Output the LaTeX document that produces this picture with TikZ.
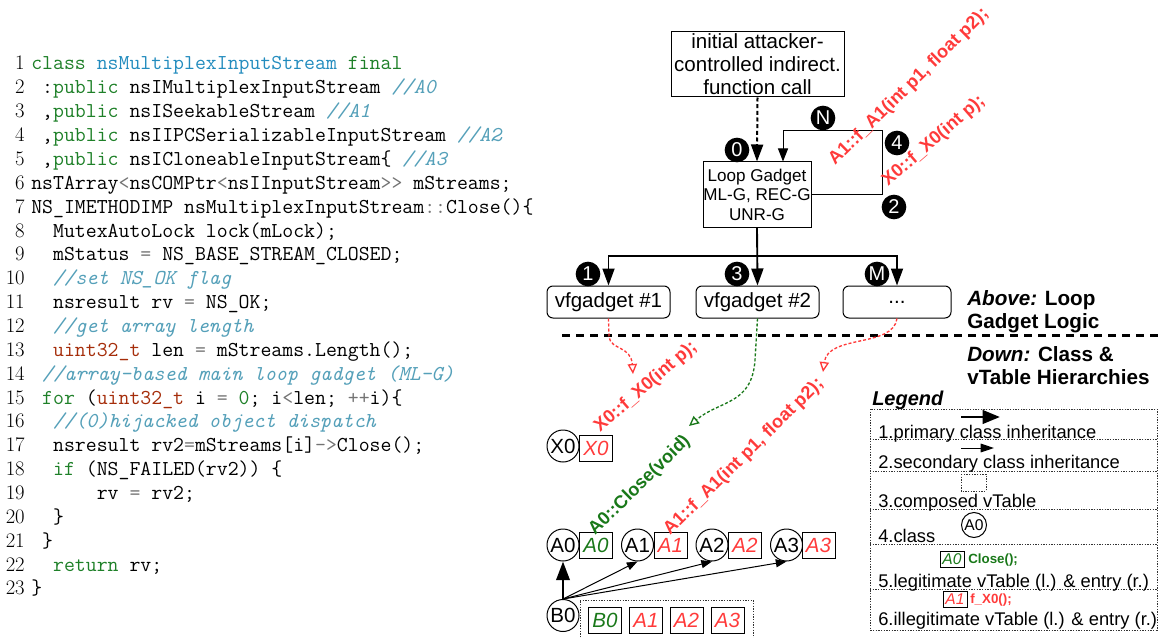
\documentclass[tikz,border=0pt]{standalone}
\usepackage{fontspec}
\newfontfamily\arialf{Liberation Sans}
\usetikzlibrary{arrows.meta}

\definecolor{kwgreen}{RGB}{30,128,40}
\definecolor{clsblue}{RGB}{35,140,190}
\definecolor{cmtblue}{RGB}{85,160,185}
\definecolor{typred}{RGB}{165,45,10}
\definecolor{opgray}{RGB}{115,115,115}
\definecolor{lred}{RGB}{255,58,58}
\definecolor{dgreen}{RGB}{25,120,25}

% code helpers
\newcommand\ind[1]{\hspace*{#1\fontcharwd\font`\x}}
\newcommand\kw[1]{\textcolor{kwgreen}{#1}}
\newcommand\ty[1]{\textcolor{typred}{#1}}
\newcommand\op[1]{\textcolor{opgray}{#1}}
\newcommand\cm[1]{\textcolor{cmtblue}{\itshape #1}}

\tikzset{
  code/.style={anchor=base west, inner sep=0pt, font=\fontsize{15.9}{18}\ttfamily},
  lnum/.style={anchor=base east, inner sep=0pt, font=\fontsize{15.5}{18}\rmfamily},
  box/.style={draw, line width=0.75pt, inner sep=0pt, align=center},
  vfbox/.style={draw, line width=0.75pt, inner sep=0pt, rounded corners=4.5pt,
    minimum width=92.25pt, minimum height=24pt, font=\fontsize{15.4}{15.4}\arialf},
  badge/.style={circle, fill=black, text=white, inner sep=0pt, minimum size=18.5pt,
    font=\fontsize{15}{15}\arialf},
  cls/.style={circle, draw, line width=0.75pt, inner sep=0pt, minimum size=24pt,
    font=\fontsize{15.4}{15.4}\arialf},
  vt/.style={draw, line width=0.75pt, inner sep=0pt, minimum width=24.75pt,
    minimum height=19.5pt, font=\fontsize{15.4}{15.4}\arialf\itshape},
  lbl/.style={rotate=44.5, anchor=base west, inner sep=0pt,
    font=\fontsize{13.6}{13.6}\arialf\bfseries},
  note/.style={anchor=base west, inner sep=0pt, font=\fontsize{15.5}{15.5}\arialf\bfseries},
  legt/.style={anchor=base west, inner sep=0pt, font=\fontsize{13.75}{13.75}\arialf},
  ldot/.style={line width=0.6pt, dash pattern=on 1pt off 1pt, black!80},
  smallvt/.style={draw, line width=0.6pt, inner sep=0pt, minimum width=18pt,
    minimum height=12pt, font=\fontsize{11.7}{11.7}\arialf\itshape},
  entry/.style={anchor=west, inner sep=0pt, font=\fontsize{10}{10}\arialf\bfseries},
  bigtip/.style={-{Triangle[length=12.75pt,width=9pt]}},
  midtip/.style={-{Triangle[length=9.75pt,width=7.5pt]}},
  opentip/.style={-{Triangle[open,length=7.5pt,width=7pt]}},
  flow/.style={line width=1pt, dash pattern=on 2.25pt off 1.5pt},
}

\begin{document}
\begin{tikzpicture}[x=0.75pt,y=-0.75pt]
\useasboundingbox (0,0) rectangle (1163,638);

% ---------------- source listing ----------------
\foreach \i in {1,...,23} {
  \node[lnum] (n\i) at (25,{70+(\i-1)*23.86}) {\i};
}
\node[code] (c1)  at (31,{70+0*23.86})  {\kw{class} \textcolor{clsblue}{nsMultiplexInputStream} \kw{final}};
\node[code] (c2)  at (31,{70+1*23.86})  {\ind1:\kw{public} nsIMultiplexInputStream \cm{//A0}};
\node[code] (c3)  at (31,{70+2*23.86})  {\ind1,\kw{public} nsISeekableStream \cm{//A1}};
\node[code] (c4)  at (31,{70+3*23.86})  {\ind1,\kw{public} nsIIPCSerializableInputStream \cm{//A2}};
\node[code] (c5)  at (31,{70+4*23.86})  {\ind1,\kw{public} nsICloneableInputStream\{ \cm{//A3}};
\node[code] (c6)  at (31,{70+5*23.86})  {nsTArray\op{<}nsCOMPtr\op{<}nsIInputStream\op{>>} mStreams;};
\node[code] (c7)  at (31,{70+6*23.86})  {NS\_IMETHODIMP nsMultiplexInputStream\op{::}Close()\{};
\node[code] (c8)  at (31,{70+7*23.86})  {\ind2MutexAutoLock lock(mLock);};
\node[code] (c9)  at (31,{70+8*23.86})  {\ind2mStatus \op{=} NS\_BASE\_STREAM\_CLOSED;};
\node[code] (c10) at (31,{70+9*23.86})  {\ind2\cm{//set NS\_OK flag}};
\node[code] (c11) at (31,{70+10*23.86}) {\ind2nsresult rv \op{=} NS\_OK;};
\node[code] (c12) at (31,{70+11*23.86}) {\ind2\cm{//get array length}};
\node[code] (c13) at (31,{70+12*23.86}) {\ind2\ty{uint32\_t} len \op{=} mStreams.Length();};
\node[code] (c14) at (31,{70+13*23.86}) {\ind1\cm{//array-based main loop gadget (ML-G)}};
\node[code] (c15) at (31,{70+14*23.86}) {\ind1\kw{for} (\ty{uint32\_t} i \op{=} \kw{0}; i\op{<}len; \op{++}i)\{};
\node[code] (c16) at (31,{70+15*23.86}) {\ind2\cm{//(0)hijacked object dispatch}};
\node[code] (c17) at (31,{70+16*23.86}) {\ind2nsresult rv2\op{=}mStreams[i]\op{->}Close();};
\node[code] (c18) at (31,{70+17*23.86}) {\ind2\kw{if} (NS\_FAILED(rv2)) \{};
\node[code] (c19) at (31,{70+18*23.86}) {\ind6rv \op{=} rv2;};
\node[code] (c20) at (31,{70+19*23.86}) {\ind2\}};
\node[code] (c21) at (31,{70+20*23.86}) {\ind1\}};
\node[code] (c22) at (31,{70+21*23.86}) {\ind2\kw{return} rv;};
\node[code] (c23) at (31,{70+22*23.86}) {\}};

% ---------------- loop gadget logic ----------------
\node[box, minimum width=129.75pt, minimum height=48.75pt,
      font=\fontsize{15.4}{17.25}\arialf] (init) at (757.5,64.5)
      {initial attacker-\\controlled indirect.\\function call};
\node[box, minimum width=81pt, minimum height=48.75pt,
      font=\fontsize{12.8}{14.6}\arialf] (loop) at (757,194.5)
      {Loop Gadget\\ML-G, REC-G\\UNR-G};
\node[vfbox] (vf1) at (608.5,302) {vfgadget \#1};
\node[vfbox] (vf2) at (757.5,302) {vfgadget \#2};
\node[vfbox, minimum width=81pt] (dots) at (897,302) {...};

\draw[line width=1.5pt, dash pattern=on 3pt off 2pt, bigtip] (init.south) -- (loop.north);

\coordinate (fbtop) at (783,131);
\draw[line width=0.75pt, midtip] (loop.east) -| (882,131) -| (loop.north -| fbtop);

\coordinate (hub) at (757,256);
\draw[line width=1.4pt, bigtip] (loop.south) -- (vf2.north);
\draw[line width=1.3pt, bigtip] (hub) -| (vf1.north);
\draw[line width=1.3pt, bigtip] (hub) -| (dots.north);

\node[badge] (b0) at (737,150) {0};
\node[badge] (bN) at (823,118) {N};
\node[badge] (b4) at (897,143) {4};
\node[badge] (b2) at (894,207) {2};
\node[badge] (b1) at (588,274) {1};
\node[badge] (b3) at (737,274) {3};
\node[badge] (bM) at (877,274) {M};

\node[lbl, text=lred] (lA1up) at (835,166) {A1::f\_A1(int p1, float p2);};
\node[lbl, text=lred, rotate=-3.5] (lX0up) at (888,187) {X0::f\_X0(int p);};

\node[note] (ab1) at (967,305) {\textit{Above:} Loop};
\node[note] (ab2) at (967,328) {Gadget Logic};

% separator
\coordinate (sepL) at (562,335);
\coordinate (sepR) at (1158,335);
\draw[line width=2.25pt, dash pattern=on 6pt off 4.5pt] (sepL) -- (sepR);

\node[note] (dn1) at (967,361) {\textit{Down:} Class \&};
\node[note] (dn2) at (967,384) {vTable Hierarchies};

% ---------------- class and vTable hierarchies ----------------
\node[cls] (X0) at (563,446) {X0};
\node[vt, text=lred] (X0v) at (596,448.5) {X0};

\node[cls] (A0) at (563,545) {A0};
\node[vt, text=dgreen] (A0v) at (596,545.5) {A0};
\node[cls] (A1) at (637.5,545) {A1};
\node[vt, text=lred] (A1v) at (670.5,545.5) {A1};
\node[cls] (A2) at (712,545) {A2};
\node[vt, text=lred] (A2v) at (745,545.5) {A2};
\node[cls] (A3) at (786.5,545) {A3};
\node[vt, text=lred] (A3v) at (818.5,545.5) {A3};

\node[cls] (B0) at (563,615.5) {B0};
\draw[ldot] (580,640) -- (580,600) -- (753,600) -- (753,640);
\node[vt, text=dgreen] (B0v) at (605,620.5) {B0};
\node[vt, text=lred] (bA1) at (646,620.5) {A1};
\node[vt, text=lred] (bA2) at (686.5,620.5) {A2};
\node[vt, text=lred] (bA3) at (727.5,620.5) {A3};

\draw[line width=2pt, -{Triangle[length=14pt,width=10pt]}] (B0.north) -- (A0.south);
\foreach \t in {A1,A2,A3}
  \draw[line width=0.75pt, -{Triangle[length=8pt,width=6pt]}] (B0.north) -- (\t.south);

\node[lbl, text=lred, rotate=-3.5] (lX0dn) at (600,433) {X0::f\_X0(int p);};
\node[lbl, text=dgreen] (lA0dn) at (595,536) {A0::Close(void)};
\node[lbl, text=lred] (lA1dn) at (670,536) {A1::f\_A1(int p1, float p2);};

% dispatch flows from the gadgets into the hierarchy
\draw[flow, lred, opentip] (vf1.south) -- (609,337)
  .. controls (611,350) and (631,346) .. (633,374);
\draw[flow, dgreen, opentip] (vf2.south) -- (755,360)
  .. controls (752,405) and (720,400) .. (689,426);
\draw[flow, lred, opentip] (dots.south) .. controls (893,348) and (828,334) .. (823,372);

% ---------------- legend ----------------
\node[anchor=base west, inner sep=0pt, font=\fontsize{15}{15}\arialf\bfseries\itshape]
  (legtitle) at (872,405) {Legend};
\draw[ldot] (870,409) rectangle (1157,630);
\foreach \yy in {439,471,509,544,589}
  \draw[ldot] (870,\yy) -- (1157,\yy);

\coordinate (r1a) at (961,417);
\coordinate (r1b) at (1000,417);
\draw[line width=2.2pt, -{Triangle[length=13pt,width=10pt]}] (r1a) -- (r1b);
\node[legt] (t1) at (878,438) {1.primary class inheritance};

\coordinate (r2a) at (961,448);
\coordinate (r2b) at (994,448);
\draw[line width=0.75pt, -{Triangle[length=10pt,width=6.5pt]}] (r2a) -- (r2b);
\node[legt] (t2) at (878,468) {2.secondary class inheritance};

\draw[ldot] (961,474) rectangle (986,491);
\node[legt] (t3) at (878,507) {3.composed vTable};

\node[circle, draw, line width=0.75pt, inner sep=0pt, minimum size=18.75pt,
      font=\fontsize{11.7}{11.7}\arialf] (lgA0) at (974,525) {A0};
\node[legt] (t4) at (878,542) {4.class};

\node[smallvt, text=dgreen] (lgv5) at (952,559) {A0};
\node[entry, text=dgreen] (lge5) at (968,560) {Close();};
\node[legt] (t5) at (878,587) {5.legitimate vTable (l.) \& entry (r.)};

\node[smallvt, text=lred] (lgv6) at (955,599.5) {A1};
\node[entry, text=lred] (lge6) at (970,600) {f\_X0();};
\node[legt] (t6) at (878,625) {6.illegitimate vTable (l.) \& entry (r.)};

\end{tikzpicture}
\end{document}
